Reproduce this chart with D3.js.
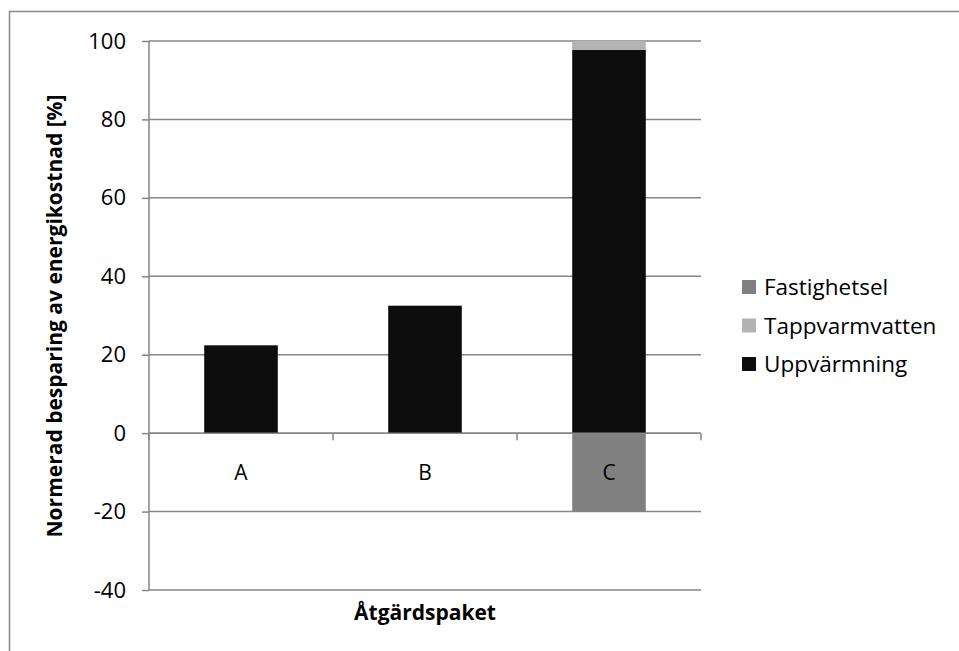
<!DOCTYPE html>
<html><head><meta charset="utf-8">
<script src="https://cdn.jsdelivr.net/npm/d3@7"></script>
<style>body{margin:0;background:#fff}svg{display:block}text{font-family:"Open Sans",Lato,sans-serif}</style>
</head><body><svg id="c" width="959" height="651"></svg>
<script>
const categories = ["A","B","C"];
const seriesNames = ["Fastighetsel","Tappvarmvatten","Uppvärmning"];
const uppvarmning = [22.4, 32.5, 97.7];
const tappvarmvatten = [0, 0, 2.3];
const fastighetsel = [0, 0, -20];
const yTicks = [-40,-20,0,20,40,60,80,100];
const colors = {"Fastighetsel":"#808080","Tappvarmvatten":"#b3b3b3","Uppvärmning":"#0d0d0d"};

const svg = d3.select("#c");
svg.append("path").attr("d","M9.5,651V11.5H959").attr("fill","none").attr("stroke","#898989").attr("stroke-width",1.5);

const x = d3.scaleBand().domain(categories).range([149,701]).paddingInner(0.6).paddingOuter(0.3);
const xb = d3.scaleBand().domain(categories).range([149,701]);
const y = d3.scaleLinear().domain([-40,100]).range([590,41]);

svg.append("g").selectAll("line").data(yTicks).join("line")
  .attr("x1",149).attr("x2",701).attr("y1",d=>y(d)).attr("y2",d=>y(d))
  .attr("stroke","#868686").attr("stroke-width",1.5);

const rows = categories.map((c,i)=>({c, Uppvärmning:uppvarmning[i], Tappvarmvatten:tappvarmvatten[i], Fastighetsel:fastighetsel[i]}));
const stack = d3.stack().keys(["Uppvärmning","Tappvarmvatten","Fastighetsel"]).offset(d3.stackOffsetDiverging)(rows);
svg.append("g").selectAll("g").data(stack).join("g").attr("fill",s=>colors[s.key])
  .selectAll("rect").data(s=>s).join("rect")
  .attr("x",d=>x(d.data.c)).attr("width",x.bandwidth())
  .attr("y",d=>y(Math.max(d[0],d[1]))).attr("height",d=>Math.abs(y(d[0])-y(d[1])));

const ya = svg.append("g").attr("transform","translate(149,0)")
  .call(d3.axisLeft(y).tickValues(yTicks).tickSize(7).tickPadding(16).tickFormat(d=>String(d)));
ya.select(".domain").attr("stroke","#868686").attr("stroke-width",1.5).attr("d","M0,41V590");
ya.selectAll(".tick line").attr("stroke","#868686").attr("stroke-width",1.5);
ya.selectAll("text").style("font-size","22px").attr("fill","#000").style("font-family","'Open Sans',sans-serif");

const xa = svg.append("g").attr("transform",`translate(0,${y(0)})`);
xa.append("line").attr("x1",149).attr("x2",701).attr("stroke","#868686").attr("stroke-width",1.5);
const bounds = categories.map(c=>xb(c)).concat([xb(categories[categories.length-1])+xb.bandwidth()]);
xa.selectAll("line.t").data(bounds).join("line").attr("class","t")
  .attr("x1",d=>d).attr("x2",d=>d).attr("y1",0).attr("y2",7).attr("stroke","#868686").attr("stroke-width",1.5);
xa.selectAll("text").data(categories).join("text")
  .attr("x",d=>xb(d)+xb.bandwidth()/2).attr("y",47).attr("text-anchor","middle")
  .style("font-size","21px").attr("fill","#000").text(d=>d);

svg.append("text").attr("transform","translate(62,316) rotate(-90)").attr("text-anchor","middle")
  .style("font-size","21px").style("font-weight","bold").text("Normerad besparing av energikostnad [%]");
svg.append("text").attr("x",425).attr("y",620).attr("text-anchor","middle")
  .style("font-size","21px").style("font-weight","bold").text("Åtgärdspaket");

const lg = svg.append("g").selectAll("g").data(seriesNames).join("g")
  .attr("transform",(d,i)=>`translate(742,${287+i*38.5})`);
lg.append("rect").attr("x",0).attr("y",-7).attr("width",14).attr("height",14).attr("fill",d=>colors[d]);
lg.append("text").attr("x",22).attr("y",8).style("font-size","22.5px").attr("fill","#000").text(d=>d);
</script></body></html>
